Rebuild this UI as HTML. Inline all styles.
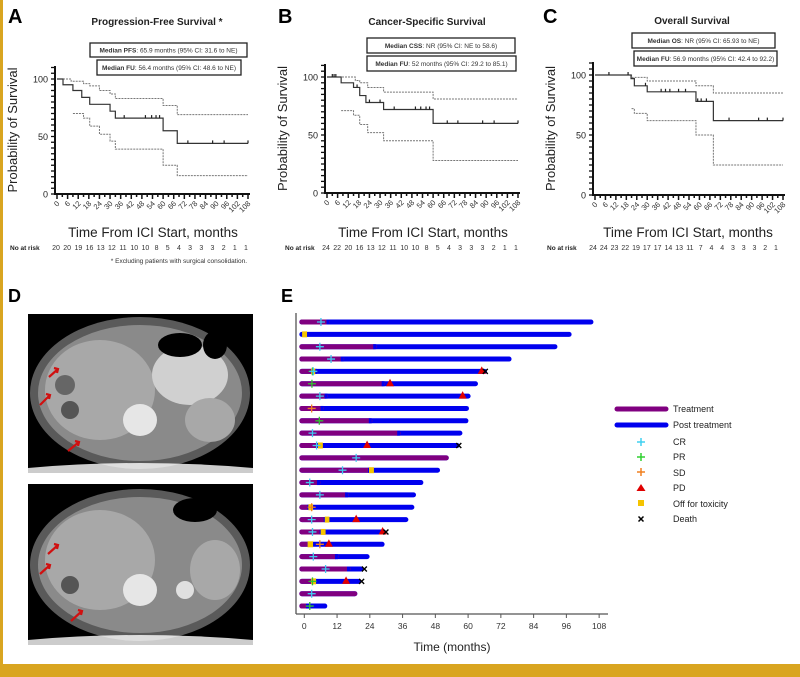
<!DOCTYPE html>
<html><head><meta charset="utf-8">
<style>
html,body{margin:0;padding:0;background:#fff;}
svg{display:block;font-family:"Liberation Sans",sans-serif;}
</style></head>
<body>
<svg id="s" width="800" height="677" viewBox="0 0 800 677" xmlns="http://www.w3.org/2000/svg">
<rect width="800" height="677" fill="#fff"/>
<rect x="0" y="0" width="3" height="677" fill="#d9a520"/>
<rect x="0" y="664" width="800" height="13" fill="#d9a520"/>
<g id="km"></g>
<!-- D panel -->
<text x="8" y="302" font-size="18" font-weight="bold">D</text>
<g>
<rect x="28" y="314" width="225" height="159" fill="#000"/>
<ellipse cx="140" cy="393" rx="110" ry="76" fill="#5a5a5a"/>
<ellipse cx="140" cy="393" rx="102" ry="68" fill="#8a8a8a"/>
<ellipse cx="100" cy="390" rx="55" ry="50" fill="#a8a8a8"/>
<ellipse cx="190" cy="375" rx="38" ry="30" fill="#d0d0d0"/>
<ellipse cx="180" cy="345" rx="22" ry="12" fill="#000"/>
<ellipse cx="215" cy="345" rx="12" ry="14" fill="#000"/>
<ellipse cx="140" cy="420" rx="17" ry="16" fill="#e6e6e6"/>
<ellipse cx="70" cy="410" rx="9" ry="9" fill="#555"/>
<ellipse cx="65" cy="385" rx="10" ry="10" fill="#666"/>
<ellipse cx="210" cy="420" rx="25" ry="22" fill="#a8a8a8"/>
<path d="M28 468 Q140 458 253 468 L253 473 L28 473Z" fill="#fff" opacity=".8"/>
</g>
<g>
<rect x="28" y="484" width="225" height="161" fill="#000"/>
<ellipse cx="140" cy="565" rx="110" ry="76" fill="#5a5a5a"/>
<ellipse cx="140" cy="565" rx="102" ry="68" fill="#8a8a8a"/>
<ellipse cx="100" cy="560" rx="55" ry="50" fill="#a8a8a8"/>
<ellipse cx="195" cy="510" rx="22" ry="12" fill="#000"/>
<ellipse cx="140" cy="590" rx="17" ry="16" fill="#e6e6e6"/>
<ellipse cx="70" cy="585" rx="9" ry="9" fill="#555"/>
<ellipse cx="215" cy="570" rx="25" ry="30" fill="#a8a8a8"/>
<ellipse cx="185" cy="590" rx="9" ry="9" fill="#e0e0e0"/>
<path d="M28 640 Q140 630 253 640 L253 645 L28 645Z" fill="#fff" opacity=".8"/>
</g>
<g stroke="#d01010" stroke-width="2.2" fill="none">
<path d="M49 377 L58 369 M54 368 L58 369 L57 373"/>
<path d="M40 405 L50 395 M46 394 L50 395 L49 399"/>
<path d="M68 451 L79 442 M75 441 L79 442 L78 446"/>
<path d="M48 554 L58 545 M54 544 L58 545 L57 549"/>
<path d="M40 574 L50 565 M46 564 L50 565 L49 569"/>
<path d="M71 621 L82 611 M78 610 L82 611 L81 615"/>
</g>
<!-- E panel -->
<text x="281" y="302" font-size="18" font-weight="bold">E</text>
<g id="sw"></g>
<!-- legend -->
<g font-size="9" fill="#222">
<line x1="617" y1="409" x2="666" y2="409" stroke="#800080" stroke-width="5" stroke-linecap="round"/>
<line x1="617" y1="425" x2="666" y2="425" stroke="#0000ee" stroke-width="5" stroke-linecap="round"/>
<text x="673" y="412">Treatment</text>
<text x="673" y="428">Post treatment</text>
<text x="673" y="445">CR</text>
<text x="673" y="460">PR</text>
<text x="673" y="476">SD</text>
<text x="673" y="491">PD</text>
<text x="673" y="507">Off for toxicity</text>
<text x="673" y="522">Death</text>
<path d="M641 438v8M637 442h8" stroke="#40d0f0" stroke-width="1.5"/>
<path d="M641 453v8M637 457h8" stroke="#30d030" stroke-width="1.5"/>
<path d="M641 468v8M637 472h8" stroke="#f08020" stroke-width="1.5"/>
<path d="M641 484 L645.5 491 L636.5 491Z" fill="#e00000"/>
<rect x="638" y="500" width="6" height="6" fill="#f5c400"/>
<path d="M638.5 516.5l5 5M643.5 516.5l-5 5" stroke="#000" stroke-width="1.5"/>
</g>
</svg>
<script>
var NS="http://www.w3.org/2000/svg";
function el(p,t,a,txt){var e=document.createElementNS(NS,t);for(var k in a)e.setAttribute(k,a[k]);if(txt!=null)e.textContent=txt;p.appendChild(e);return e;}
var km=document.getElementById('km');
var panels=[
{L:'A',lx:8,ly:23,title:'Progression-Free Survival *',tx:157,ty:25,x0:57,x1:248,y100:79,y0:194,ytop:66,
 boxes:[[90,43,157,14,'Median PFS',': 65.9 months (95% CI: 31.6 to NE)'],[97,60,144,15,'Median FU',': 56.4 months (95% CI: 48.6 to NE)']],
 solid:[[0,100],[3.4,95],[9,90],[14,84],[18.5,78],[30,72],[33,66],[60,55],[68,44],[108,44]],
 up:[[0,100],[8,98],[15,96],[18.5,94],[24,90],[30,87],[33,83],[60,77],[68,69],[108,69]],
 lo:[[9,70],[15,66],[18.5,59],[24,52],[30,46],[33,39],[60,25],[68,16],[108,16]],
 cens:[38,50,53.5,56,58,74,88,94.5,108],
 risk:'20 20 19 16 13 12 11 10 10 8 5 4 3 3 3 2 1 1',rx:10,r0:56,r1:246,ylx:17,xlx:153},
{L:'B',lx:278,ly:23,title:'Cancer-Specific Survival',tx:427,ty:25,x0:327,x1:518,y100:77,y0:193,ytop:64,
 boxes:[[367,38,148,15,'Median CSS',': NR (95% CI: NE to 58.6)'],[367,56,149,15,'Median FU',': 52 months (95% CI: 29.2 to 85.1)']],
 solid:[[0,100],[8,95],[15,91],[18.5,84],[22,78],[32,72],[60,60],[108,60]],
 up:[[0,100],[8,100],[16,97],[18.5,95],[23,91],[32,87],[60,81],[108,81]],
 lo:[[8,71],[15,67],[18.5,59],[23,52],[32,45],[60,28],[108,28]],
 cens:[3,4,5,17,24,30,38,50,53,56,58,68,74,88,94.5,108],
 risk:'24 22 20 16 13 12 11 10 10 8 5 4 3 3 3 2 1 1',rx:285,r0:326,r1:516,ylx:287,xlx:423},
{L:'C',lx:543,ly:23,title:'Overall Survival',tx:692,ty:24,x0:595,x1:783,y100:75,y0:195,ytop:62,
 boxes:[[632,33,143,15,'Median OS',': NR (95% CI: 65.93 to NE)'],[634,51,143,15,'Median FU',': 56.9 months (95% CI: 42.4 to 92.2)']],
 solid:[[0,100],[20.7,97],[22.6,91],[30,86],[58,78],[68,62],[108,62]],
 up:[[0,100],[21,98],[30,95],[58,91],[68,85],[108,85]],
 lo:[[21,72],[22.6,68],[30,62],[58,50],[68,25],[108,25]],
 cens:[8,19,29,38,40.5,43,48,52,59,61,64,77,94,99,108],
 risk:'24 24 23 22 19 17 17 14 13 11 7 4 4 3 3 3 2 1',rx:547,r0:593,r1:776,ylx:555,xlx:688}
];
panels.forEach(function(P){
 var X=function(m){return P.x0+(P.x1-P.x0)*m/108;}, Y=function(p){return P.y0-(P.y0-P.y100)*p/100;};
 el(km,'text',{x:P.lx,y:P.ly,'font-size':20,'font-weight':'bold'},P.L);
 el(km,'text',{x:P.tx,y:P.ty,'font-size':10,'font-weight':'bold','text-anchor':'middle',fill:'#222'},P.title);
 P.boxes.forEach(function(b){el(km,'rect',{x:b[0],y:b[1],width:b[2],height:b[3],fill:'#fff',stroke:'#222','stroke-width':1.3});
  var t=el(km,'text',{x:b[0]+b[2]/2,y:b[1]+b[3]/2+2.5,'font-size':6.5,'text-anchor':'middle',fill:'#333'});
  el(t,'tspan',{'font-weight':'bold'},b[4]);el(t,'tspan',{},b[5]);});
 // axes
 el(km,'line',{x1:P.x0-2,y1:P.ytop,x2:P.x0-2,y2:P.y0+1,stroke:'#111','stroke-width':2});
 el(km,'line',{x1:P.x0-3,y1:P.y0,x2:P.x1+2,y2:P.y0,stroke:'#111','stroke-width':2});
 for(var p=0;p<=110;p+=5){var yy=Y(p);if(yy<P.ytop)break;el(km,'line',{x1:P.x0-6,y1:yy,x2:P.x0-2,y2:yy,stroke:'#111','stroke-width':1.3});}
 [0,50,100].forEach(function(p){el(km,'text',{x:P.x0-9,y:Y(p)+3.5,'font-size':9,'text-anchor':'end',fill:'#222'},p);});
 for(var m=0;m<=108;m+=3){var xx=X(m);el(km,'line',{x1:xx,y1:P.y0,x2:xx,y2:P.y0+(m%6?3:5),stroke:'#111','stroke-width':1.5});}
 for(var m=0;m<=108;m+=6){var xx=X(m);el(km,'text',{x:xx+3,y:P.y0+10,'font-size':7.5,'text-anchor':'end',fill:'#333',transform:'rotate(-45 '+(xx+3)+' '+(P.y0+10)+')'},m);}
 el(km,'text',{x:P.ylx,y:(P.y0+P.ytop)/2,'font-size':13,'text-anchor':'middle',fill:'#222',transform:'rotate(-90 '+P.ylx+' '+((P.y0+P.ytop)/2)+')'},'Probability of Survival');
 el(km,'text',{x:P.xlx,y:237,'font-size':13.5,'text-anchor':'middle',fill:'#222'},'Time From ICI Start, months');
 el(km,'text',{x:P.rx,y:250,'font-size':6.5,'font-weight':'bold',fill:'#222'},'No at risk');
 var r=P.risk.split(' ');r.forEach(function(v,i){el(km,'text',{x:P.r0+(P.r1-P.r0)*i/17,y:250,'font-size':7,'text-anchor':'middle',fill:'#333'},v);});
 function step(pts,dash,w){var d='M'+X(pts[0][0])+' '+Y(pts[0][1]);for(var i=1;i<pts.length;i++){d+=' H'+X(pts[i][0])+' V'+Y(pts[i][1]);}
  el(km,'path',{d:d,fill:'none',stroke:dash?'#777':'#333','stroke-width':w,'stroke-dasharray':dash?'2 1':'none'});}
 step(P.up,1,1);step(P.lo,1,1);step(P.solid,0,1.2);
 P.cens.forEach(function(m){var i=0;for(var k=0;k<P.solid.length;k++)if(P.solid[k][0]<=m)i=k;var yy=Y(P.solid[i][1]);
  el(km,'line',{x1:X(m),y1:yy-3,x2:X(m),y2:yy,stroke:'#222','stroke-width':1.2});});
});
el(km,'text',{x:247,y:263,'font-size':6.5,'text-anchor':'end',fill:'#333'},'* Excluding patients with surgical consolidation.');

// swimmer
var sw=document.getElementById('sw');
var SX=function(m){return 304.3+m*2.73;};
var rows=[
[8.5,105,[],[['CR',6.1]]],
[0,97,[[-0.8,1]],[]],
[25.6,91.8,[],[['CR',5.7]]],
[13.7,75,[],[['CR',9.8]]],
[3.9,66,[[2.5,4]],[['PR',3],['CR',3.3],['PD',65],['X',66.3]]],
[28.7,62.7,[],[['PR',2.8],['PD',31.4]]],
[7.8,60,[],[['CR',5.7],['PD',58]]],
[6.3,59.4,[],[['SD',2.7]]],
[24,59.2,[],[['PR',5.5]]],
[34.4,57,[],[['CR',3]]],
[5,56,[[5,6.8]],[['CR',4.5],['PD',23],['X',56.6]]],
[52,52,[],[['CR',19]]],
[23.7,48.8,[[23.7,25.5]],[['CR',14]]],
[5,42.7,[],[['CR',2]]],
[15.3,40,[],[['CR',5.7]]],
[1.5,39.4,[[1.5,3.2]],[['SD',2.7]]],
[7.5,37.2,[[7.5,9.2]],[['CR',2.7],['PD',19]]],
[6,29,[[6,7.8]],[['CR',3],['PD',28.7],['X',29.9]]],
[1.5,28.5,[[1.2,3.2]],[['SD',5.7],['PD',9]]],
[11.6,23,[],[['CR',3.3]]],
[16,20.7,[],[['CR',7.8],['X',22]]],
[3,20,[[2.5,4.3]],[['PR',3],['PD',15.3],['X',21]]],
[18.5,18.5,[],[['CR',2.7]]],
[1,7.5,[],[['PR',2]]]
];
el(sw,'line',{x1:296,y1:313,x2:296,y2:614,stroke:'#555','stroke-width':1.3});
el(sw,'line',{x1:296,y1:614,x2:608,y2:614,stroke:'#555','stroke-width':1.3});
for(var m=0;m<=108;m+=12){var xx=SX(m);el(sw,'line',{x1:xx,y1:614,x2:xx,y2:618,stroke:'#555','stroke-width':1});
 el(sw,'text',{x:xx,y:629,'font-size':8.5,'text-anchor':'middle',fill:'#333'},m);}
el(sw,'text',{x:452,y:651,'font-size':12,'text-anchor':'middle',fill:'#222'},'Time (months)');
var col={CR:'#40c8f0',PR:'#30c030',SD:'#f08020'};
rows.forEach(function(r,i){var y=322+i*12.35;var s=-0.9;
 el(sw,'line',{x1:SX(s),y1:y,x2:SX(r[1]),y2:y,stroke:'#0000ee','stroke-width':5,'stroke-linecap':'round'});
 if(r[0]>0){el(sw,'line',{x1:SX(s),y1:y,x2:SX(r[0]),y2:y,stroke:'#800080','stroke-width':5,'stroke-linecap':'round'});
  if(r[0]<r[1]) el(sw,'rect',{x:SX(r[0])-1,y:y-2.5,width:3,height:5,fill:'#0000ee'});}
 r[2].forEach(function(t){el(sw,'rect',{x:SX(t[0]),y:y-3,width:Math.max(3,SX(t[1])-SX(t[0])),height:6,fill:'#f5c400'});});
 r[3].forEach(function(e){var x=SX(e[1]);
  if(e[0]=='PD')el(sw,'path',{d:'M'+x+' '+(y-5)+' L'+(x+4)+' '+(y+2.5)+' L'+(x-4)+' '+(y+2.5)+'Z',fill:'#e00000'});
  else if(e[0]=='X')el(sw,'path',{d:'M'+(x-2.5)+' '+(y-2.5)+'l5 5M'+(x+2.5)+' '+(y-2.5)+'l-5 5',stroke:'#000','stroke-width':1.4});
  else el(sw,'path',{d:'M'+x+' '+(y-4)+'v8M'+(x-4)+' '+y+'h8',stroke:col[e[0]],'stroke-width':1.3});
 });
});
</script>
</body></html>
